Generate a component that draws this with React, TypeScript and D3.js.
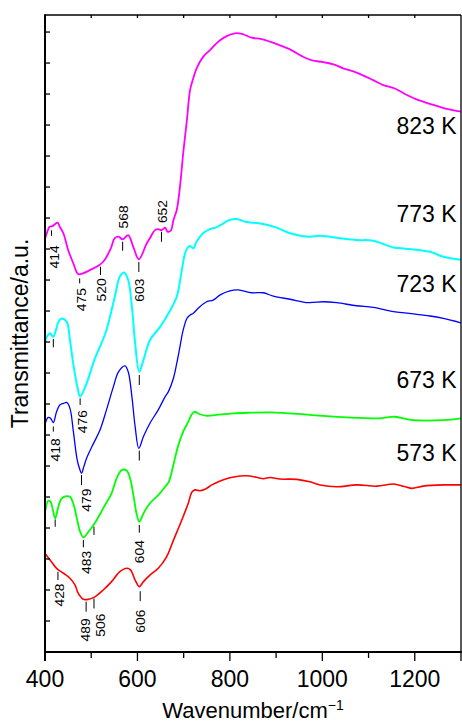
import React from 'react';
import * as d3 from 'd3';

type Pt = [number, number];

// Infrared spectra (wavenumber in cm^-1, transmittance in stacked arbitrary units)
const spectrum823K: Pt[] = [
  [400, 133.2], [405, 135.6], [410, 137.2], [416, 137.4], [427, 138.5], [432, 137.2], [440, 135], [450, 129.7],
  [461, 125.5], [472, 121.9], [483, 122.2], [497, 123.2], [515, 124.6], [526, 125.9], [541, 129.7],
  [551, 133.5], [559, 134], [568, 133.1], [580, 134.5], [591, 130.7], [603, 126.7], [620, 131.8],
  [627, 133.5], [638, 136.1], [645, 136.4], [652, 136.1], [660, 136.9], [665, 135.6], [672, 135.9],
  [678, 139.4], [685, 142.6], [692, 150.1], [699, 160.9], [707, 171.6], [714, 181.4], [721, 185.2],
  [728, 188.3], [742, 192], [757, 194.2], [775, 196.9], [793, 198.7], [811, 199.6], [826, 199.4],
  [847, 198.2], [869, 197.7], [894, 196.5], [930, 194.4], [955, 192.3], [977, 190.9], [1002, 190.3],
  [1024, 189.6], [1045, 188.3], [1074, 186.9], [1110, 184.5], [1132, 182.9], [1157, 181.8],
  [1183, 179.7], [1204, 178.3], [1240, 176.5], [1269, 175.2], [1300, 174.3],
];

const spectrum773K: Pt[] = [
  [400, 100], [405, 102], [411, 102.8], [414, 102.3], [418, 101.7], [424, 104], [429, 106.5],
  [436, 107.6], [447, 106.5], [454, 100.6], [461, 93.1], [470, 85.6], [476, 82.4], [490, 86.7],
  [508, 94.7], [519, 98.5], [533, 103.9], [551, 114.6], [562, 121.1], [571, 122.4], [580, 120],
  [588, 111.4], [595, 99.6], [604, 90.4], [613, 94.2], [627, 100.6], [649, 104.9], [670, 110],
  [685, 114.6], [696, 123.2], [703, 128.6], [710, 130.7], [714, 131], [721, 130.2], [728, 132.4],
  [742, 135.1], [757, 136.4], [771, 137], [786, 138.3], [800, 139.4], [818, 139.6], [833, 138.8],
  [851, 138.5], [872, 138.1], [901, 136.9], [930, 135.1], [970, 134], [995, 134.3], [1038, 133.5],
  [1074, 132.9], [1110, 132.7], [1154, 130.5], [1175, 130.2], [1233, 129.1], [1262, 127.5],
  [1300, 126.5],
];

const spectrum723K: Pt[] = [
  [400, 73.5], [407, 75.7], [412, 75.4], [418, 74], [425, 77.5], [432, 79.7], [440, 80.2],
  [447, 80.5], [454, 78.6], [461, 71.6], [469, 62.5], [474, 59.5], [479, 57.7], [484, 59.8],
  [490, 62.5], [505, 67.3], [519, 71.6], [533, 78.1], [548, 85.6], [559, 90.4], [573, 92.3],
  [580, 90.4], [588, 82.4], [595, 72.7], [603, 65.7], [613, 69.5], [627, 73.8], [645, 78.1],
  [660, 82.4], [667, 84], [678, 88.4], [685, 93.1], [692, 98.5], [699, 103.9], [707, 107.6],
  [714, 108.7], [721, 109.3], [735, 111.4], [750, 113], [764, 113.5], [779, 115.2], [800, 116.5],
  [818, 116.8], [847, 115.9], [872, 115.9], [894, 114.8], [930, 113.8], [970, 112.7], [1002, 113],
  [1031, 112.7], [1074, 111.7], [1110, 111.2], [1154, 109.8], [1183, 109.3], [1233, 108.4],
  [1262, 107.6], [1300, 106.2],
];

const spectrum673K: Pt[] = [
  [401, 45.8], [407, 48.8], [412, 48.5], [417, 45.8], [422, 43.1], [429, 46.9], [436, 49.6],
  [447, 50.3], [454, 50.1], [461, 48], [469, 43.1], [476, 38.8], [483, 37], [494, 38.8], [505, 41],
  [512, 42.6], [526, 46.4], [544, 51.2], [555, 56], [566, 58.7], [577, 58.5], [585, 55.5], [593, 49],
  [598, 44.7], [604, 42], [613, 44.7], [627, 48], [645, 50.6], [660, 53.3], [668, 55], [678, 60.5],
  [688, 66.5], [699, 71.1], [710, 74.3], [717, 76.5], [723, 77.5], [735, 76.7], [750, 76.2],
  [771, 76.5], [807, 77], [844, 77.2], [890, 77.3], [973, 76.5], [1053, 75.7], [1125, 75.4],
  [1157, 75.9], [1190, 74.9], [1262, 74.8], [1300, 75.4],
];

const spectrum573K: Pt[] = [
  [400, 31.8], [411, 29.7], [425, 27], [440, 25.4], [454, 23.8], [465, 21.6], [472, 18.9], [483, 17],
  [494, 17], [508, 17.8], [526, 20], [544, 22.7], [562, 25.9], [577, 27], [585, 26.5], [595, 23.2],
  [604, 21.1], [613, 22.7], [627, 24.8], [645, 27], [663, 30.7], [678, 36.1], [696, 42.6], [710, 48],
  [718, 51.6], [725, 52.3], [735, 52], [746, 52.5], [761, 53.9], [779, 55.2], [800, 56.2], [822, 56.8],
  [844, 56.8], [872, 55.9], [887, 56.3], [908, 55.8], [945, 55.7], [973, 54.9], [995, 53.9],
  [1031, 53.3], [1074, 53.9], [1118, 53.5], [1154, 54.2], [1175, 53.5], [1193, 52.8], [1218, 53.5],
  [1262, 53.9], [1300, 53.9],
];

const spectra: Pt[][] = [spectrum823K, spectrum773K, spectrum723K, spectrum673K, spectrum573K];
const seriesNames = ['823 K', '773 K', '723 K', '673 K', '573 K'];
const seriesColors = ['#ff00ff', '#00ffff', '#0000ff', '#00ff00', '#ff0000'];
const seriesWidths = [1.8, 2, 1.3, 1.8, 1.6];
// level (a.u.) of each temperature caption's baseline
const nameLevels = [167.1, 138.6, 116, 85.1, 61.6];

// band positions marked on each spectrum (cm^-1); showText = print the number
const bandSeries = [0, 0, 0, 0, 0, 0, 1, 1, 1, 2, 2, 2, 3, 3, 3, 3, 4, 4, 4, 4];
const bandWavenumbers = [414, 475, 520, 568, 603, 652, 418, 476, 604, 418, 479, 604, 422, 483, 506, 604, 428, 489, 506, 606];
const bandShowText = [1, 1, 1, 1, 1, 1, 0, 1, 0, 1, 1, 0, 0, 1, 0, 1, 1, 1, 1, 1];

// marker layout: gap below curve, tick length, gap to text, text shift, text-above offset
const bandLayout = [
  { gap: 4, len: 5.5, tgap: 9.5, dx: 3.5 },
  { gap: 4.5, len: 5, tgap: 4.7, dx: 2 },
  { gap: 2.8, len: 8.3, tgap: 3.3, dx: 1.5 },
  { gap: 2.3, len: 9, above: 11, dx: 0.6 },
  { gap: 2.7, len: 10, tgap: 6.6, dx: 0.7 },
  { gap: 1.6, len: 10, above: 7, dx: 1 },
  { gap: 2.2, len: 8.4 },
  { gap: 1.7, len: 6.7, tgap: 5, dx: 3 },
  { gap: 3.2, len: 10 },
  { gap: 4, len: 5, tgap: 6.6, dx: 2.7 },
  { gap: 2, len: 10, tgap: 3.3, dx: 5 },
  { gap: 3.4, len: 10 },
  { gap: 1, len: 7.4 },
  { gap: 2.7, len: 7.3, tgap: 3.4, dx: 3 },
  { gap: 2.4, len: 8.3 },
  { gap: 3.2, len: 7.7, tgap: 7.3, dx: 0.5 },
  { gap: 2.5, len: 8.3, tgap: 3.3, dx: 2 },
  { gap: 2.4, len: 10, tgap: 6.6, dx: 0 },
  { gap: 1.3, len: 10, tgap: 5, dx: 6.5 },
  { gap: 5.7, len: 10, tgap: 8.3, dx: 0.5 },
];

const xTicks = d3.range(400, 1301, 100);
const xTickLabels = [400, 600, 800, 1000, 1200];
const yTicks = d3.range(10, 201, 10);

const FONT = "'Liberation Sans', Arial, Helvetica, sans-serif";

export default function App() {
  const W = 462;
  const H = 723;
  const left = 45, right = 461, top = 15, bottom = 652;

  const x = d3.scaleLinear().domain([400, 1300]).range([left, right]);
  const y = d3.scaleLinear().domain([0, 205.5]).range([bottom, top]);

  const line = d3
    .line<Pt>()
    .x((d) => x(d[0]))
    .y((d) => y(d[1]))
    .curve(d3.curveCatmullRom.alpha(0.5));

  const bis = d3.bisector((d: Pt) => d[0]).left;
  const valueAt = (data: Pt[], wn: number) => {
    const i = bis(data, wn);
    if (i <= 0) return data[0][1];
    if (i >= data.length) return data[data.length - 1][1];
    const a = data[i - 1];
    const b = data[i];
    const t = (wn - a[0]) / (b[0] - a[0]);
    return a[1] + t * (b[1] - a[1]);
  };

  return (
    <svg
      width={W}
      height={H}
      viewBox={`0 0 ${W} ${H}`}
      style={{ position: 'absolute', left: 0, top: 0, background: '#fff' }}
      fontFamily={FONT}
    >
      <defs>
        <clipPath id="plot-area">
          <rect x={left} y={top} width={right - left} height={bottom - top} />
        </clipPath>
      </defs>

      {/* spectra */}
      <g clipPath="url(#plot-area)">
        {spectra.map((data, i) => (
          <path
            key={seriesNames[i]}
            d={line(data) || ''}
            fill="none"
            stroke={seriesColors[i]}
            strokeWidth={seriesWidths[i]}
            strokeLinejoin="round"
          />
        ))}
      </g>

      {/* band markers */}
      {bandWavenumbers.map((wn, k) => {
        const s = bandSeries[k];
        const lay: any = bandLayout[k];
        const bx = x(wn);
        const cy = y(valueAt(spectra[s], wn));
        const t0 = cy + lay.gap;
        const t1 = t0 + lay.len;
        const show = bandShowText[k] === 1;
        let textEl = null;
        if (show) {
          const tx = bx + (lay.dx || 0);
          const isAbove = lay.above !== undefined;
          const ty = isAbove ? cy - lay.above : t1 + lay.tgap;
          textEl = (
            <text
              transform={`translate(${tx},${ty}) rotate(-90) scale(1.07,1)`}
              textAnchor={isAbove ? 'start' : 'end'}
              dominantBaseline="central"
              fontSize={13}
              fill="#000"
            >
              {String(wn)}
            </text>
          );
        }
        return (
          <g key={`band-${k}`}>
            <line x1={bx} x2={bx} y1={t0} y2={t1} stroke="#000" strokeWidth={1} />
            {textEl}
          </g>
        );
      })}

      {/* temperature captions */}
      {seriesNames.map((name, i) => (
        <text key={`cap-${name}`} x={456.5} y={y(nameLevels[i])} textAnchor="end" fontSize={23} fill="#000">
          {name}
        </text>
      ))}

      {/* frame */}
      <line x1={left} x2={right} y1={top} y2={top} stroke="#000" strokeWidth={1.4} />
      <line x1={right} x2={right} y1={top} y2={bottom} stroke="#000" strokeWidth={1.3} />
      <line x1={left} x2={left} y1={top - 0.7} y2={bottom + 1} stroke="#000" strokeWidth={2} />
      <line x1={left - 1} x2={right + 0.7} y1={bottom} y2={bottom} stroke="#000" strokeWidth={2} />

      {/* left ticks (inward) */}
      {yTicks.map((v) => (
        <line key={`yt-${v}`} x1={left} x2={left + 5} y1={y(v)} y2={y(v)} stroke="#000" strokeWidth={1.3} />
      ))}

      {/* top ticks (inward) */}
      {xTicks.slice(1, -1).map((v) => (
        <line key={`tt-${v}`} x1={x(v)} x2={x(v)} y1={top} y2={top + 3} stroke="#000" strokeWidth={1.3} />
      ))}

      {/* bottom ticks (outward) */}
      {xTicks.map((v) => {
        const major = v % 200 === 0 || v === 1300;
        return (
          <line
            key={`bt-${v}`}
            x1={x(v)}
            x2={x(v)}
            y1={bottom}
            y2={bottom + (major ? 9 : 6)}
            stroke="#000"
            strokeWidth={v === 400 ? 2 : 1.3}
          />
        );
      })}

      {/* bottom tick labels */}
      {xTickLabels.map((v) => (
        <text key={`bl-${v}`} x={x(v)} y={687} textAnchor="middle" fontSize={23} fill="#000">
          {v}
        </text>
      ))}

      {/* axis titles */}
      <text x={(left + right) / 2} y={718} textAnchor="middle" fontSize={22} fill="#000">
        Wavenumber/cm
        <tspan fontSize={14} dy={-8.5}>
          −1
        </tspan>
      </text>
      <text
        transform={`translate(28,${(top + bottom) / 2}) rotate(-90)`}
        textAnchor="middle"
        fontSize={23}
        fill="#000"
      >
        Transmittance/a.u.
      </text>
    </svg>
  );
}
